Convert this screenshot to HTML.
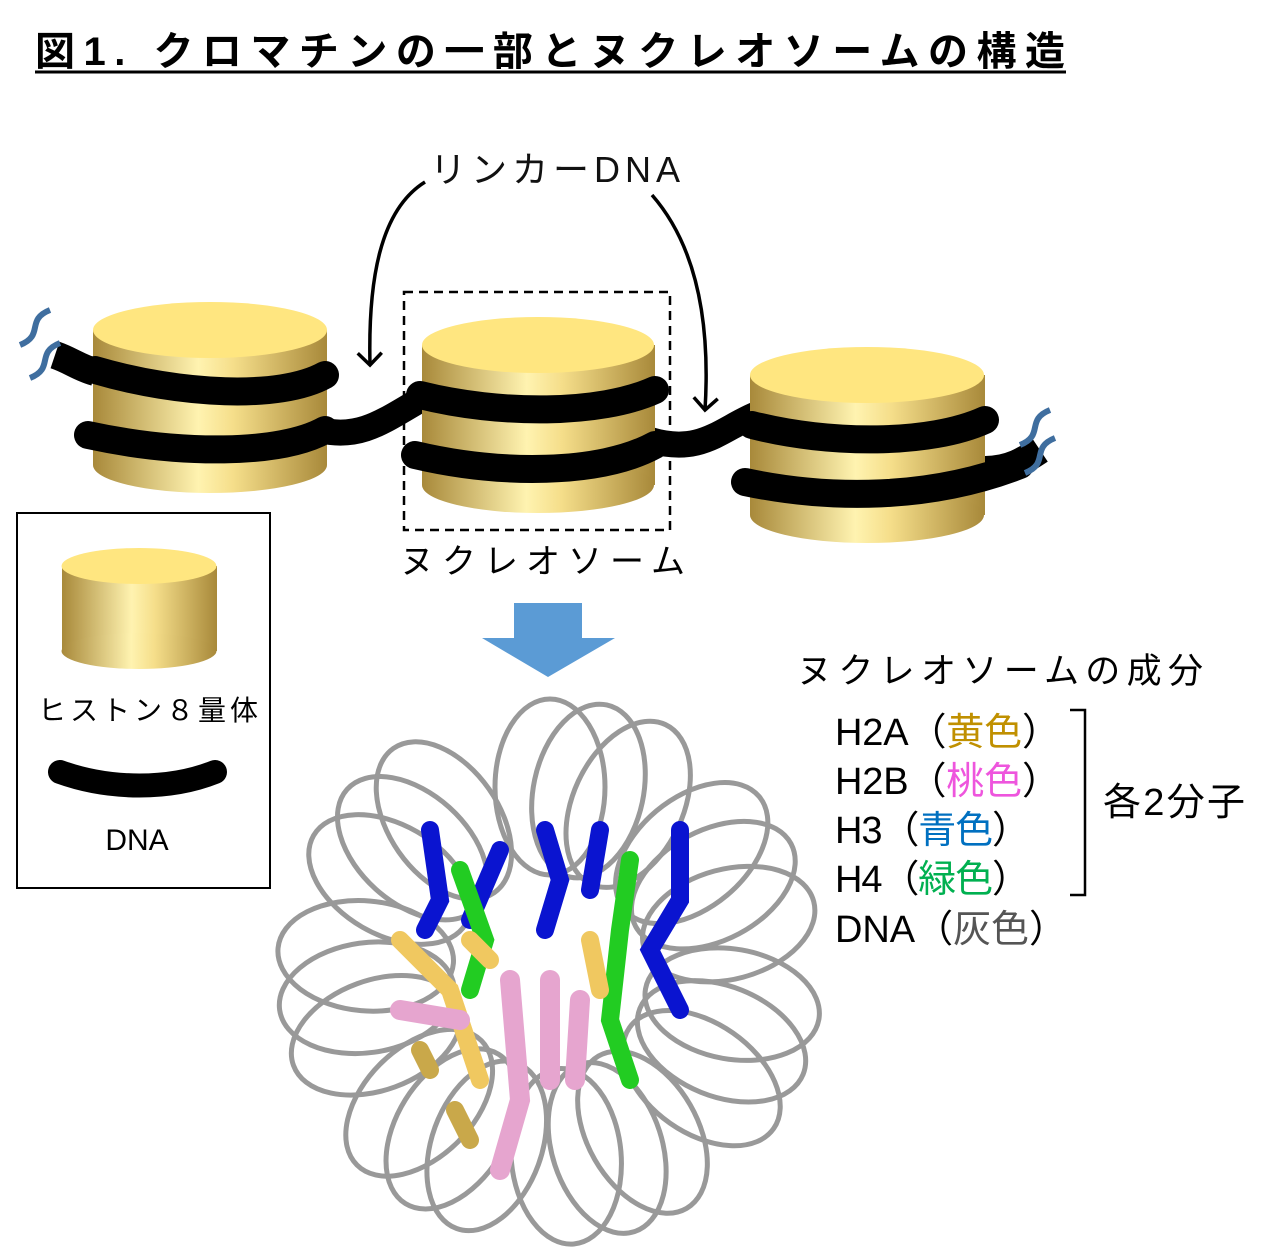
<!DOCTYPE html>
<html><head><meta charset="utf-8"><style>
body{margin:0;background:#fff;}
svg{display:block}
text{font-family:"Liberation Sans","Noto Sans CJK JP",sans-serif;}
</style></head><body>
<svg width="1282" height="1256" viewBox="0 0 1282 1256" xmlns="http://www.w3.org/2000/svg">
<defs>
<linearGradient id="side" x1="0" x2="1" y1="0" y2="0">
<stop offset="0" stop-color="#a8893a"/><stop offset="0.45" stop-color="#fff3b0"/><stop offset="0.6" stop-color="#f5de8a"/><stop offset="1" stop-color="#a8893a"/>
</linearGradient>
<marker id="ah" markerWidth="30" markerHeight="30" refX="15" refY="15" orient="auto" markerUnits="userSpaceOnUse"><path d="M3,3 L15,15 L3,27" fill="none" stroke="#000" stroke-width="3.5"/></marker>
</defs>

<text x="35" y="65" font-size="40" font-weight="bold" fill="#000" textLength="1030" lengthAdjust="spacing">図1. クロマチンの一部とヌクレオソームの構造</text>
<line x1="35" y1="72" x2="1066" y2="72" stroke="#000" stroke-width="3"/>

<text x="430" y="182" font-size="36" fill="#111" textLength="250" lengthAdjust="spacing">リンカーDNA</text>
<path d="M425,182 C380,210 368,280 370,365" fill="none" stroke="#000" stroke-width="3.5" marker-end="url(#ah)"/>
<path d="M652,195 C700,250 710,330 705,410" fill="none" stroke="#000" stroke-width="3.5" marker-end="url(#ah)"/>

<path d="M55,355 C70,360 80,368 95,372" stroke="#000" stroke-width="28" fill="none"/>
<path d="M320,430 C360,440 385,420 420,400" stroke="#000" stroke-width="26" fill="none"/>
<path d="M650,440 C700,455 720,430 755,415" stroke="#000" stroke-width="26" fill="none"/>
<path d="M985,470 C1010,470 1025,460 1040,450" stroke="#000" stroke-width="28" fill="none"/>

<g>
<rect x="93" y="330" width="234" height="135" fill="url(#side)"/>
<ellipse cx="210" cy="465" rx="117" ry="28" fill="url(#side)"/>
<ellipse cx="210" cy="330" rx="117" ry="28" fill="#ffe680"/>
<path d="M95,370 C180,395 280,400 325,375" stroke="#000" stroke-width="28" fill="none" stroke-linecap="round"/>
<path d="M88,435 C180,455 280,455 325,430" stroke="#000" stroke-width="28" fill="none" stroke-linecap="round"/>
</g>
<g>
<rect x="422" y="345" width="233" height="140" fill="url(#side)"/>
<ellipse cx="538" cy="485" rx="116" ry="28" fill="url(#side)"/>
<ellipse cx="538" cy="345" rx="116" ry="28" fill="#ffe680"/>
<path d="M420,395 C500,415 600,415 655,390" stroke="#000" stroke-width="28" fill="none" stroke-linecap="round"/>
<path d="M415,455 C500,475 600,475 655,445" stroke="#000" stroke-width="28" fill="none" stroke-linecap="round"/>
</g>
<g>
<rect x="750" y="375" width="235" height="140" fill="url(#side)"/>
<ellipse cx="867" cy="515" rx="117" ry="28" fill="url(#side)"/>
<ellipse cx="867" cy="375" rx="117" ry="28" fill="#ffe680"/>
<path d="M752,425 C830,445 930,445 985,420" stroke="#000" stroke-width="28" fill="none" stroke-linecap="round"/>
<path d="M745,482 C830,500 930,500 1020,465" stroke="#000" stroke-width="28" fill="none" stroke-linecap="round"/>
</g>

<path d="M20,345 C45,335 25,320 50,310 M30,378 C55,368 35,353 60,343" stroke="#3f6e9f" stroke-width="6" fill="none"/>
<path d="M1020,445 C1045,435 1025,420 1050,410 M1025,473 C1050,463 1030,448 1055,438" stroke="#3f6e9f" stroke-width="6" fill="none"/>

<rect x="404" y="292" width="266" height="238" fill="none" stroke="#000" stroke-width="2.5" stroke-dasharray="9,6"/>
<text x="400" y="573" font-size="34" fill="#000" textLength="285" lengthAdjust="spacing">ヌクレオソーム</text>

<rect x="17" y="513" width="253" height="375" fill="none" stroke="#000" stroke-width="2"/>
<rect x="62" y="566" width="155" height="85" fill="url(#side)"/>
<ellipse cx="139" cy="651" rx="77.5" ry="18" fill="url(#side)"/>
<ellipse cx="139" cy="566" rx="77.5" ry="18" fill="#ffe680"/>
<text x="38" y="720" font-size="28" fill="#000" textLength="220" lengthAdjust="spacing">ヒストン８量体</text>
<path d="M60,772 C110,790 170,790 215,772" stroke="#000" stroke-width="24" fill="none" stroke-linecap="round"/>
<text x="137" y="850" font-size="30" text-anchor="middle" fill="#000">DNA</text>

<polygon points="514,603 582,603 582,638 615,638 548,677 482,638 514,638" fill="#5b9bd5"/>

<g fill="none" stroke="#999" stroke-width="5">
<g transform="translate(550,972)">
<ellipse cx="0" cy="-185" rx="55" ry="88" transform="rotate(0)"/>
<ellipse cx="0" cy="-185" rx="55" ry="88" transform="rotate(25)"/>
<ellipse cx="0" cy="-185" rx="55" ry="88" transform="rotate(50)"/>
<ellipse cx="0" cy="-185" rx="55" ry="88" transform="rotate(75)"/>
<ellipse cx="0" cy="-185" rx="55" ry="88" transform="rotate(100)"/>
<ellipse cx="0" cy="-185" rx="55" ry="88" transform="rotate(125)"/>
<ellipse cx="0" cy="-185" rx="55" ry="88" transform="rotate(150)"/>
<ellipse cx="0" cy="-185" rx="55" ry="88" transform="rotate(175)"/>
<ellipse cx="0" cy="-185" rx="55" ry="88" transform="rotate(200)"/>
<ellipse cx="0" cy="-185" rx="55" ry="88" transform="rotate(225)"/>
<ellipse cx="0" cy="-185" rx="55" ry="88" transform="rotate(250)"/>
<ellipse cx="0" cy="-185" rx="55" ry="88" transform="rotate(275)"/>
<ellipse cx="0" cy="-185" rx="55" ry="88" transform="rotate(300)"/>
<ellipse cx="0" cy="-185" rx="55" ry="88" transform="rotate(325)"/>
<ellipse cx="0" cy="-185" rx="55" ry="88" transform="rotate(12)"/>
<ellipse cx="0" cy="-185" rx="55" ry="88" transform="rotate(62)"/>
<ellipse cx="0" cy="-185" rx="55" ry="88" transform="rotate(112)"/>
<ellipse cx="0" cy="-185" rx="55" ry="88" transform="rotate(162)"/>
<ellipse cx="0" cy="-185" rx="55" ry="88" transform="rotate(212)"/>
<ellipse cx="0" cy="-185" rx="55" ry="88" transform="rotate(262)"/>
<ellipse cx="0" cy="-185" rx="55" ry="88" transform="rotate(312)"/>
</g>
</g>
<g stroke-linecap="round" fill="none">
<path d="M430,830 L440,900 L425,930 M500,850 L470,920 M545,830 L560,880 L545,930" stroke="#0a14d0" stroke-width="18"/>
<path d="M600,830 L590,890 M680,830 L680,900 L650,950 L680,1010" stroke="#0a14d0" stroke-width="18"/>
<path d="M460,870 L485,940 L470,990 M630,860 L620,930 L610,1020 L630,1080" stroke="#22cc22" stroke-width="18"/>
<path d="M400,940 L450,990 L480,1080 M470,940 L490,960 M590,940 L600,990" stroke="#f0c860" stroke-width="18"/>
<path d="M400,1010 L460,1020 M510,980 L520,1100 L500,1170 M550,980 L550,1080 M580,1000 L575,1080" stroke="#e6a5cf" stroke-width="20"/>
<path d="M455,1110 L470,1140 M420,1050 L430,1070" stroke="#c9a84a" stroke-width="18"/>
</g>

<text x="797" y="683" font-size="35" fill="#000" textLength="406" lengthAdjust="spacing">ヌクレオソームの成分</text>
<g font-size="38">
<text x="835" y="745" fill="#000" textLength="225" lengthAdjust="spacing">H2A（<tspan fill="#c09000">黄色</tspan>）</text>
<text x="835" y="794" fill="#000" textLength="225" lengthAdjust="spacing">H2B（<tspan fill="#ee55dd">桃色</tspan>）</text>
<text x="835" y="843" fill="#000" textLength="195" lengthAdjust="spacing">H3（<tspan fill="#0070c0">青色</tspan>）</text>
<text x="835" y="892" fill="#000" textLength="195" lengthAdjust="spacing">H4（<tspan fill="#00b050">緑色</tspan>）</text>
<text x="835" y="942" fill="#000" textLength="232" lengthAdjust="spacing">DNA（<tspan fill="#555">灰色</tspan>）</text>
</g>
<path d="M1070,710 L1085,710 L1085,895 L1070,895" fill="none" stroke="#000" stroke-width="2.5"/>
<text x="1103" y="815" font-size="38" fill="#000" textLength="142" lengthAdjust="spacing">各2分子</text>
</svg>
</body></html>
